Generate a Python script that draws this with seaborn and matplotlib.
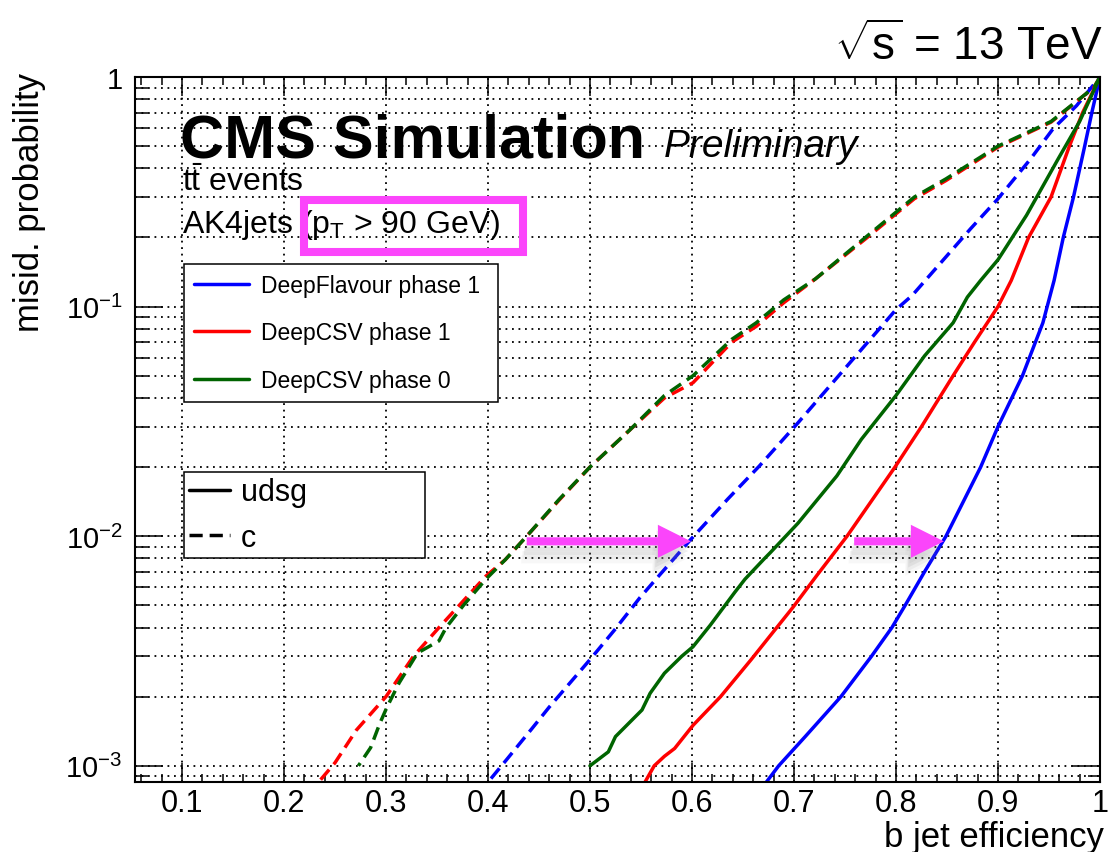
import numpy as np
import pandas as pd
import matplotlib
matplotlib.use("Agg")
import matplotlib.pyplot as plt
import matplotlib.ticker as mticker
import matplotlib.patheffects as pe
from matplotlib.lines import Line2D
from matplotlib.patches import Rectangle
import seaborn as sns

# ---------------- data ----------------
taggers = ["DeepFlavour phase 1", "DeepCSV phase 1", "DeepCSV phase 0"]
flavours = ["udsg", "c"]

df1_udsg_eff = [0.673, 0.685, 0.711, 0.746, 0.776, 0.796, 0.809, 0.828, 0.849, 0.883,
                0.900, 0.924, 0.944, 0.955, 0.964, 0.974, 0.985, 0.992, 1.0]
df1_udsg_mis = [0.00085, 0.001, 0.00134, 0.002, 0.003, 0.004, 0.005, 0.007, 0.01, 0.02,
                0.03, 0.05, 0.085, 0.13, 0.2, 0.3, 0.5, 0.7, 1.0]

csv1_udsg_eff = [0.554, 0.563, 0.573, 0.583, 0.601, 0.628, 0.658, 0.677, 0.699, 0.723,
                 0.752, 0.799, 0.825, 0.856, 0.877, 0.900, 0.913, 0.930, 0.952, 0.970,
                 0.983, 1.0]
csv1_udsg_mis = [0.00085, 0.001, 0.0011, 0.00119, 0.0015, 0.002, 0.0029, 0.0037, 0.0049, 0.0068,
                 0.01, 0.02, 0.03, 0.05, 0.07, 0.1, 0.13, 0.2, 0.3, 0.5,
                 0.7, 1.0]

csv0_udsg_eff = [0.500, 0.518, 0.525, 0.551, 0.559, 0.573, 0.590, 0.601, 0.618, 0.642,
                 0.652, 0.670, 0.677, 0.704, 0.742, 0.766, 0.800, 0.828, 0.856, 0.870,
                 0.883, 0.900, 0.928, 0.959, 0.980, 1.0]
csv0_udsg_mis = [0.001, 0.00115, 0.00134, 0.00175, 0.00207, 0.00253, 0.003, 0.0033, 0.0041, 0.0057,
                 0.0065, 0.0079, 0.0085, 0.0114, 0.0183, 0.0264, 0.041, 0.061, 0.085, 0.11,
                 0.13, 0.16, 0.25, 0.44, 0.64, 1.0]

df1_c_eff = [0.403, 0.418, 0.443, 0.460, 0.500, 0.524, 0.549, 0.566, 0.599, 0.635,
             0.666, 0.704, 0.745, 0.800, 0.816, 0.873, 0.900, 0.932, 0.954, 0.977, 1.0]
df1_c_mis = [0.00088, 0.00106, 0.00145, 0.0018, 0.0029, 0.0039, 0.0054, 0.0066, 0.0097, 0.0145,
             0.0202, 0.0312, 0.0507, 0.097, 0.112, 0.218, 0.295, 0.44, 0.595, 0.75, 1.0]

csv1_c_eff = [0.236, 0.250, 0.271, 0.300, 0.327, 0.352, 0.398, 0.417, 0.438, 0.470,
              0.500, 0.539, 0.573, 0.601, 0.639, 0.663, 0.690, 0.721, 0.770, 0.818,
              0.849, 0.900, 0.952, 0.994, 1.0]
csv1_c_mis = [0.00087, 0.00103, 0.00143, 0.002, 0.003, 0.004, 0.0067, 0.0079, 0.01, 0.0144,
              0.02, 0.029, 0.04, 0.0466, 0.07, 0.082, 0.104, 0.132, 0.197, 0.295,
              0.354, 0.495, 0.636, 0.9, 1.0]

csv0_c_eff = [0.273, 0.285, 0.294, 0.301, 0.313, 0.331, 0.352, 0.359, 0.376, 0.398,
              0.417, 0.438, 0.470, 0.500, 0.539, 0.573, 0.601, 0.639, 0.663, 0.690,
              0.721, 0.770, 0.818, 0.849, 0.900, 0.952, 0.994, 1.0]
csv0_c_mis = [0.001, 0.0012, 0.00153, 0.0018, 0.0023, 0.0031, 0.0035, 0.004, 0.005, 0.0065,
              0.0079, 0.01, 0.0145, 0.02, 0.029, 0.041, 0.05, 0.072, 0.085, 0.107,
              0.132, 0.2, 0.3, 0.36, 0.5, 0.64, 0.9, 1.0]

x_ticks = [0.1, 0.2, 0.3, 0.4, 0.5, 0.6, 0.7, 0.8, 0.9, 1.0]
x_tick_labels = ["0.1", "0.2", "0.3", "0.4", "0.5", "0.6", "0.7", "0.8", "0.9", "1"]
y_ticks = [1e-3, 1e-2, 1e-1, 1.0]
y_tick_labels = [r"$10^{-3}$", r"$10^{-2}$", r"$10^{-1}$", "1"]

# ---------------- style ----------------
sns.set_theme(style="white")
plt.rcParams['font.family'] = ['Liberation Sans', 'DejaVu Sans']
plt.rcParams['mathtext.fontset'] = 'custom'
plt.rcParams['mathtext.rm'] = 'Liberation Sans'
plt.rcParams['mathtext.sf'] = 'Liberation Sans'
plt.rcParams['mathtext.it'] = 'Liberation Sans:italic'
plt.rcParams['mathtext.bf'] = 'Liberation Sans:bold'
for k in ['text.color', 'axes.labelcolor', 'xtick.color', 'ytick.color']:
    plt.rcParams[k] = 'black'

palette = {"DeepFlavour phase 1": "#0000ff", "DeepCSV phase 1": "#ff0000",
           "DeepCSV phase 0": "#006400"}
magenta = "#fb45fb"
dash = (3.8, 2.0)
LW = 2.5

W, H = 1110, 853
fig = plt.figure(figsize=(W / 100, H / 100), dpi=100)
ax = fig.add_axes([135 / W, 1 - 783 / H, 965 / W, 705 / H])

curves = [
    ("DeepFlavour phase 1", "udsg", df1_udsg_eff, df1_udsg_mis),
    ("DeepCSV phase 1", "udsg", csv1_udsg_eff, csv1_udsg_mis),
    ("DeepCSV phase 0", "udsg", csv0_udsg_eff, csv0_udsg_mis),
    ("DeepFlavour phase 1", "c", df1_c_eff, df1_c_mis),
    ("DeepCSV phase 1", "c", csv1_c_eff, csv1_c_mis),
    ("DeepCSV phase 0", "c", csv0_c_eff, csv0_c_mis),
]
data = pd.concat([pd.DataFrame({"eff": e, "misid": m, "tagger": t, "flavour": f})
                  for t, f, e, m in curves], ignore_index=True)

ax.set_yscale('log')
sns.lineplot(data=data, x="eff", y="misid", hue="tagger", style="flavour",
             hue_order=taggers, style_order=flavours, palette=palette,
             dashes={"udsg": "", "c": dash}, estimator=None, sort=False,
             lw=LW, legend=False, ax=ax)

# offset the phase-0 c dashes so the overlapping red/green dashes alternate
for ln in ax.lines:
    if matplotlib.colors.to_hex(ln.get_color()) == palette["DeepCSV phase 0"] and ln.get_linestyle() != '-':
        ln.set_linestyle((dash[0] * 0.75, dash))

ax.set_xlim(0.054, 1.0)
ax.set_ylim(0.00085, 1.0)
ax.set_xlabel("")
ax.set_ylabel("")

ax.xaxis.set_major_locator(mticker.FixedLocator(x_ticks))
ax.xaxis.set_major_formatter(mticker.FixedFormatter(x_tick_labels))
ax.xaxis.set_minor_locator(mticker.MultipleLocator(0.02))
ax.yaxis.set_major_locator(mticker.FixedLocator(y_ticks))
ax.yaxis.set_major_formatter(mticker.FixedFormatter(y_tick_labels))
ax.yaxis.set_minor_locator(mticker.LogLocator(base=10, subs=np.arange(2, 10) * 1.0, numticks=30))
ax.yaxis.set_minor_formatter(mticker.NullFormatter())

ax.tick_params(axis='x', which='major', direction='in', length=14, width=1.1,
               top=True, bottom=True, labelsize=22, pad=4, colors='black')
ax.tick_params(axis='x', which='minor', direction='in', length=6, width=1.1,
               top=True, bottom=True, colors='black')
ax.tick_params(axis='y', which='major', direction='in', length=20, width=1.1,
               left=True, right=True, labelsize=21, pad=9, colors='black')
ax.tick_params(axis='y', which='minor', direction='in', length=9, width=1.1,
               left=True, right=True, colors='black')

grid_ls = (0, (1.0, 2.6))
ax.grid(True, axis='x', which='major', color='black', linestyle=grid_ls, linewidth=1.3)
ax.grid(True, axis='y', which='both', color='black', linestyle=grid_ls, linewidth=1.3)
ax.set_axisbelow(True)
for s in ax.spines.values():
    s.set_linewidth(1.5)
    s.set_color('black')

# ---------------- legends ----------------
h1 = [Line2D([], [], color=palette[t], lw=LW) for t in taggers]
leg1 = ax.legend(h1, taggers, loc='upper left', mode='expand',
                 bbox_to_anchor=(49 / 965, (783 - 397) / 705, 314 / 965, 132 / 705),
                 borderaxespad=0, fontsize=16.5, borderpad=0.42, labelspacing=1.08,
                 handlelength=2.4, handletextpad=0.55, frameon=True, fancybox=False,
                 framealpha=1, edgecolor='black')
leg1.get_frame().set_linewidth(1.1)
ax.add_artist(leg1)

h2 = [Line2D([], [], color='black', lw=LW),
      Line2D([], [], color='black', lw=LW, linestyle=(0, dash))]
leg2 = ax.legend(h2, flavours, loc='upper left', mode='expand',
                 bbox_to_anchor=(49 / 965, (783 - 558) / 705, 241 / 965, 85 / 705),
                 borderaxespad=0, fontsize=22, borderpad=0.17, labelspacing=0.52,
                 handlelength=1.34, handletextpad=0.36, frameon=True, fancybox=False,
                 framealpha=1, edgecolor='black')
leg2.get_frame().set_linewidth(1.1)

# ---------------- arrows ----------------
arrow_style = "simple,head_length=1.19,head_width=1.19,tail_width=0.29"
shadow = [pe.SimplePatchShadow(offset=(-1, -4), shadow_rgbFace='0.5', alpha=0.10),
          pe.SimplePatchShadow(offset=(-2, -7), shadow_rgbFace='0.5', alpha=0.12),
          pe.SimplePatchShadow(offset=(-3, -10), shadow_rgbFace='0.55', alpha=0.10),
          pe.SimplePatchShadow(offset=(-4, -13), shadow_rgbFace='0.6', alpha=0.07),
          pe.Normal()]
for x0, x1 in [(0.438, 0.599), (0.759, 0.847)]:
    ax.annotate("", xy=(x1, 0.0095), xytext=(x0, 0.0095), xycoords='data',
                arrowprops=dict(arrowstyle=arrow_style, fc=magenta, ec='none',
                                shrinkA=0, shrinkB=0, mutation_scale=20,
                                path_effects=shadow), zorder=5)

# ---------------- texts ----------------
def fx(px):
    return px / W

def fy(py):
    return 1 - py / H

fig.text(fx(180), fy(157), "CMS Simulation", fontsize=44, fontweight='bold', va='baseline', ha='left')
fig.text(fx(664), fy(157), "Preliminary", fontsize=28, fontstyle='italic', va='baseline', ha='left')
fig.text(fx(182), fy(191), r"$\mathrm{t\bar{t}}$ events", fontsize=23, va='baseline', ha='left')
fig.text(fx(182), fy(233), r"AK4jets (p$_{\mathrm{T}}$ > 90 GeV)", fontsize=23, va='baseline', ha='left')
fig.text(fx(1103), fy(60), r"$\sqrt{\mathrm{s}}$ = 13 TeV", fontsize=33, va='baseline', ha='right')
fig.text(fx(30), fy(73), "misid. probability", fontsize=25, rotation=90, ha='center', va='top')
fig.text(fx(1104), fy(847), "b jet efficiency", fontsize=25, ha='right', va='baseline')

fig.add_artist(Rectangle((fx(304), fy(253)), (523 - 304) / W, (253 - 201) / H,
                         transform=fig.transFigure, fill=False, edgecolor=magenta,
                         linewidth=5.8, zorder=10))

fig.savefig("out.png", dpi=100)
